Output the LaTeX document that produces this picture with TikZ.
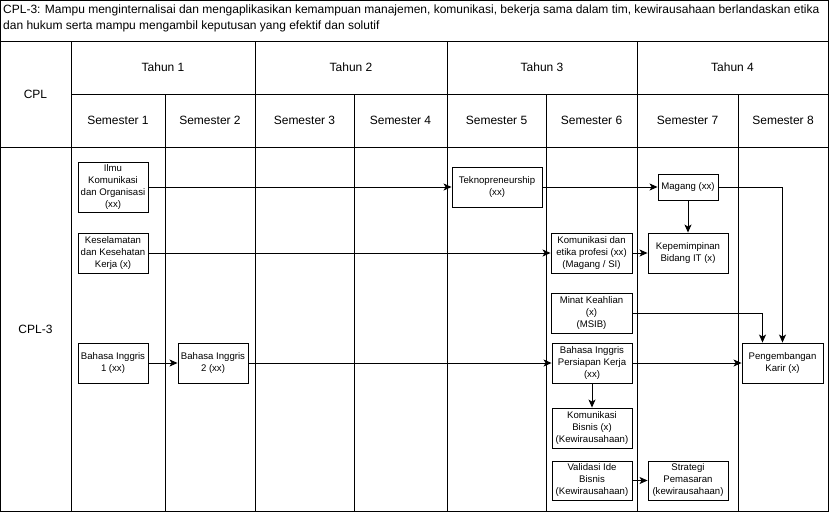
\documentclass[tikz,border=0pt]{standalone}
\usepackage{fontspec}
\setmainfont{Liberation Sans}
\usetikzlibrary{arrows.meta}
\begin{document}
\begin{tikzpicture}[x=1pt,y=-1pt,
  grid/.style={line width=0.9pt,black},
  box/.style={draw,line width=0.9pt,inner sep=0pt,align=center,font=\fontsize{9.6}{12}\selectfont},
  hdr/.style={inner sep=0pt,font=\fontsize{12}{14}\selectfont},
  conn/.style={line width=0.9pt,-{Stealth[length=8pt,width=7pt,inset=2pt]}}]
\useasboundingbox (0,0) rectangle (829,512);
% grid
\draw[grid] (0.5,0.5) rectangle (828,511);
\draw[grid] (0.5,41) -- (828,41);
\draw[grid] (71,94) -- (828,94);
\draw[grid] (0.5,147) -- (828,147);
\foreach \x in {71,255,447,637} \draw[grid] (\x,41) -- (\x,511);
\foreach \x in {165,354,546,738} \draw[grid] (\x,94) -- (\x,511);
% title
\node[anchor=north west,inner sep=0pt,align=left,font=\fontsize{12}{16}\selectfont] (title) at (3,5)
  {CPL-3: Mampu menginternalisai dan mengaplikasikan kemampuan manajemen, komunikasi, bekerja sama dalam tim, kewirausahaan berlandaskan etika\\dan hukum serta mampu mengambil keputusan yang efektif dan solutif};
% headers
\node[hdr] (cpl) at (35.5,94) {CPL};
\node[hdr] (cpl3) at (35.5,329) {CPL-3};
\node[hdr] (t1) at (163,67) {Tahun 1};
\node[hdr] (t2) at (351,67) {Tahun 2};
\node[hdr] (t3) at (542,67) {Tahun 3};
\node[hdr] (t4) at (732.5,67) {Tahun 4};
\node[hdr] (s1) at (118,120) {Semester 1};
\node[hdr] (s2) at (210,120) {Semester 2};
\node[hdr] (s3) at (304.5,120) {Semester 3};
\node[hdr] (s4) at (400.5,120) {Semester 4};
\node[hdr] (s5) at (496.5,120) {Semester 5};
\node[hdr] (s6) at (591.5,120) {Semester 6};
\node[hdr] (s7) at (687.5,120) {Semester 7};
\node[hdr] (s8) at (783,120) {Semester 8};
% boxes
\node[box,minimum width=70pt,minimum height=50pt] (ilmu) at (113,187) {Ilmu\\Komunikasi\\dan Organisasi\\(xx)};
\node[box,minimum width=70pt,minimum height=40pt] (kes) at (113,253) {Keselamatan\\dan Kesehatan\\Kerja (x)};
\node[box,minimum width=70pt,minimum height=40pt] (bi1) at (113,363) {Bahasa Inggris\\1 (xx)};
\node[box,minimum width=70pt,minimum height=40pt] (bi2) at (213,363) {Bahasa Inggris\\2 (xx)};
\node[box,minimum width=90pt,minimum height=40pt] (tekno) at (497,187) {Teknopreneurship\\(xx)};
\node[box,minimum width=60pt,minimum height=26pt] (magang) at (688,187) {Magang (xx)};
\node[box,minimum width=80pt,minimum height=40pt] (kep) at (688,253) {Kepemimpinan\\Bidang IT (x)};
\node[box,minimum width=81pt,minimum height=40pt] (kom) at (591.5,253) {Komunikasi dan\\etika profesi (xx)\\(Magang / SI)};
\node[box,minimum width=81pt,minimum height=40pt] (minat) at (591.5,313) {Minat Keahlian\\(x)\\(MSIB)};
\node[box,minimum width=80pt,minimum height=40pt] (bipk) at (592,363) {Bahasa Inggris\\Persiapan Kerja\\(xx)};
\node[box,minimum width=80pt,minimum height=40pt] (kbis) at (592,428) {Komunikasi\\Bisnis (x)\\(Kewirausahaan)};
\node[box,minimum width=80pt,minimum height=39pt] (val) at (592,480.5) {Validasi Ide\\Bisnis\\(Kewirausahaan)};
\node[box,minimum width=80pt,minimum height=39pt] (strat) at (688,480.5) {Strategi\\Pemasaran\\(kewirausahaan)};
\node[box,minimum width=81pt,minimum height=40pt] (peng) at (782.5,363) {Pengembangan\\Karir (x)};
% connectors
\draw[conn] (ilmu.east) -- (tekno.west);
\draw[conn] (kes.east) -- (kom.west);
\draw[conn] (bi1.east) -- (bi2.west);
\draw[conn] (bi2.east) -- (bipk.west);
\draw[conn] (tekno.east) -- (magang.west);
\draw[conn] (magang.south) -- (kep.north);
\draw[conn] (kom.east) -- (kep.west);
\draw[conn] (minat.east) -| ([xshift=-20pt]peng.north);
\draw[conn] (magang.east) -| (peng.north);
\draw[conn] (bipk.east) -- (peng.west);
\draw[conn] (bipk.south) -- (kbis.north);
\draw[conn] (val.east) -- (strat.west);
\end{tikzpicture}
\end{document}
